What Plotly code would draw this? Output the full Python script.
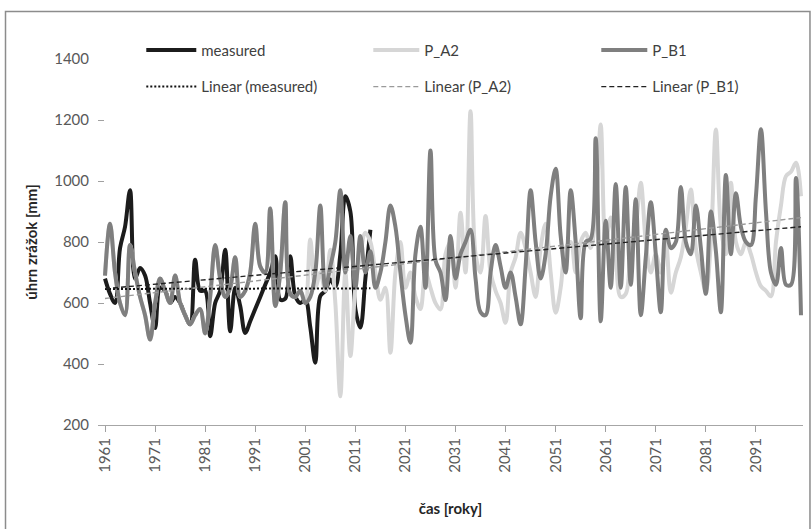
import plotly.graph_objects as go

# ---------------- data ----------------
years_measured = list(range(1961, 2015))
measured = [680, 630, 600, 780, 850, 970, 680, 715, 690, 600,
            518, 650, 640, 600, 620, 600, 560, 530, 742, 640,
            640, 491, 600, 640, 775, 507, 650, 590, 502, 540,
            580, 620, 660, 700, 753, 611, 614, 753, 623, 600,
            611, 520, 404, 623, 640, 677, 655, 760, 950, 900,
            580, 520, 680, 840]

years_scen = list(range(1961, 2101))
P_B1 = [690, 860, 700, 600, 560, 790, 700, 620, 560, 480,
        600, 680, 640, 600, 690, 600, 560, 530, 560, 580,
        500, 620, 790, 680, 620, 650, 750, 620, 640, 700,
        860, 720, 700, 910, 590, 700, 930, 630, 620, 640,
        600, 620, 700, 920, 650, 720, 800, 970, 700, 820,
        650, 820, 700, 770, 650, 700, 800, 920, 850, 700,
        560, 470, 760, 850, 650, 1100, 740, 700, 610, 820,
        680, 760, 800, 840, 680, 570, 560, 700, 790, 720,
        650, 700, 620, 530, 720, 970, 800, 680, 760, 950,
        1040, 820, 700, 970, 800, 550, 800, 810, 1140, 540,
        870, 650, 990, 650, 980, 660, 940, 560, 750, 930,
        760, 570, 840, 780, 800, 980, 800, 760, 920, 780,
        630, 900, 770, 570, 1020, 760, 960, 850, 800, 790,
        950, 1170, 900, 700, 660, 780, 660, 660, 1010, 560]

P_A2 = P_B1[:40] + [
        600, 808, 650, 700, 640, 775, 600, 294, 700, 426,
        650, 760, 830, 800, 700, 611, 650, 437, 700, 800,
        650, 700, 620, 580, 700, 650, 600, 579, 760, 800,
        650, 896, 700, 1229, 760, 700, 885, 700, 640, 600,
        535, 700, 750, 830, 780, 700, 620, 780, 860, 700,
        568, 650, 780, 800, 700, 800, 830, 780, 900, 1185,
        800, 880, 750, 620, 630, 780, 850, 994, 800, 700,
        760, 700, 800, 634, 700, 750, 850, 972, 780, 700,
        640, 800, 1169, 850, 760, 994, 800, 760, 800, 760,
        700, 655, 640, 622, 800, 920, 1016, 1030, 1060, 950]

# linear trend lines (end points)
trend_measured_x = [1961, 2014]
trend_measured_y = [646, 648]
trend_A2_x = [1961, 2100]
trend_A2_y = [615, 880]
trend_B1_x = [1961, 2100]
trend_B1_y = [647, 850]

tick_years = list(range(1961, 2100, 10))
tick_labels = [str(y) for y in tick_years]
y_ticks = [200, 400, 600, 800, 1000, 1200, 1400]

FONT = "Lato"

fig = go.Figure()

fig.add_trace(go.Scatter(x=years_measured, y=measured, mode="lines", name="measured",
                         line=dict(color="#1c1c1c", width=4, shape="spline"),
                         legend="legend"))
fig.add_trace(go.Scatter(x=years_scen, y=P_A2, mode="lines", name="P_A2",
                         line=dict(color="#d6d6d6", width=4, shape="spline"),
                         legend="legend2"))
fig.add_trace(go.Scatter(x=years_scen, y=P_B1, mode="lines", name="P_B1",
                         line=dict(color="#7f7f7f", width=4, shape="spline"),
                         legend="legend3"))
fig.add_trace(go.Scatter(x=trend_measured_x, y=trend_measured_y, mode="lines",
                         name="Linear (measured)",
                         line=dict(color="#111111", width=2, dash="2px,2px"),
                         legend="legend4"))
fig.add_trace(go.Scatter(x=trend_A2_x, y=trend_A2_y, mode="lines",
                         name="Linear (P_A2)",
                         line=dict(color="#9a9a9a", width=1.4, dash="5px,3px"),
                         legend="legend5"))
fig.add_trace(go.Scatter(x=trend_B1_x, y=trend_B1_y, mode="lines",
                         name="Linear (P_B1)",
                         line=dict(color="#222222", width=1.4, dash="5px,3px"),
                         legend="legend6"))


def leg(x, y, iw):
    return dict(x=x, y=y, orientation="h", xanchor="left", yanchor="top",
                font=dict(family=FONT, size=15, color="#404040"),
                bgcolor="rgba(0,0,0,0)", itemwidth=iw)


row1, row2 = 1.069, 0.969
fig.update_layout(
    width=811, height=529,
    margin=dict(l=98, r=8, t=59, b=104),
    paper_bgcolor="white", plot_bgcolor="white",
    showlegend=True,
    legend=leg(0.0614, row1, 50),
    legend2=leg(0.3834, row1, 46),
    legend3=leg(0.7068, row1, 46),
    legend4=leg(0.0614, row2, 50),
    legend5=leg(0.3834, row2, 46),
    legend6=leg(0.7068, row2, 46),
    xaxis=dict(range=[1959.6, 2100.4], tickmode="array", tickvals=tick_years,
               ticktext=tick_labels, tickangle=-90, ticks="outside", ticklen=6,
               tickcolor="#a0a0a0", showline=True, linecolor="#a6a6a6", linewidth=1,
               showgrid=False, zeroline=False,
               tickfont=dict(family=FONT, size=15, color="#595959"),
               title=dict(text="čas [roky]", standoff=31,
                          font=dict(family=FONT, size=15, color="#262626", weight="bold"))),
    yaxis=dict(range=[200, 1400], tickmode="array", tickvals=y_ticks,
               ticks="inside", ticklen=6, tickcolor="#a0a0a0", showline=False,
               showgrid=False, zeroline=False, ticklabelstandoff=8,
               tickfont=dict(family=FONT, size=15, color="#595959"),
               title=dict(text="úhrn zrážok [mm]", standoff=12,
                          font=dict(family=FONT, size=15, color="#262626", weight="bold"))),
    shapes=[dict(type="rect", xref="paper", yref="paper",
                 x0=-0.1312, x1=1.0099, y0=-0.35, y1=1.1298,
                 line=dict(color="#8c8c8c", width=1.5), fillcolor="rgba(0,0,0,0)",
                 layer="below")],
)

fig.write_html("out.html")
